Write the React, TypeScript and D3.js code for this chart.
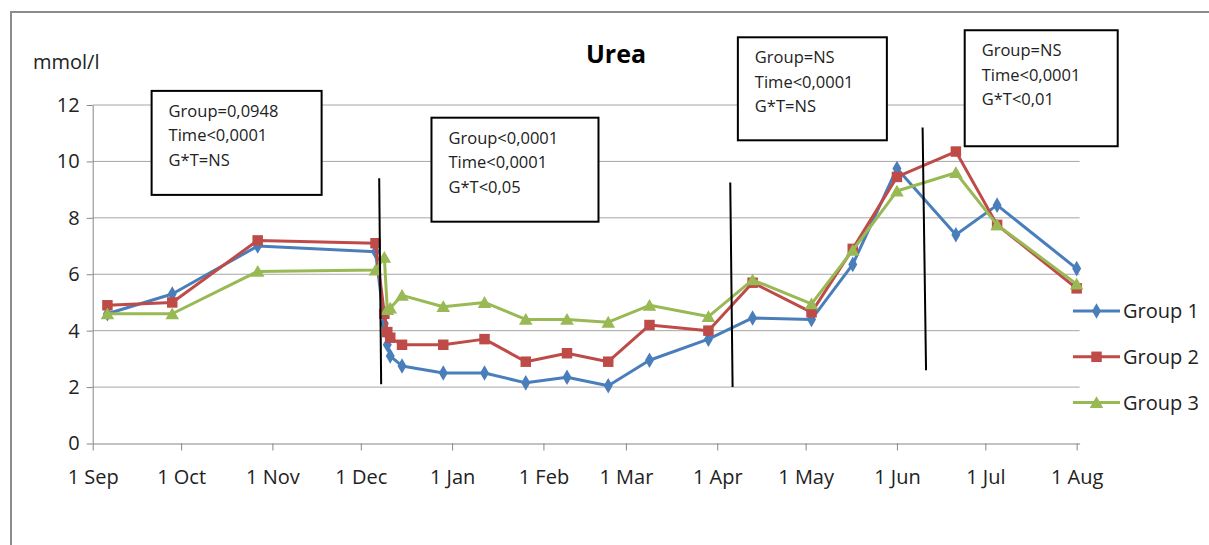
import { useEffect, useRef } from 'react'
import * as d3 from 'd3'

// sampling dates (shared by the three groups)
const dates = [
  '2010-09-06', '2010-09-28', '2010-10-27', '2010-12-06', '2010-12-09', '2010-12-10',
  '2010-12-11', '2010-12-15', '2010-12-29', '2011-01-12', '2011-01-26', '2011-02-09',
  '2011-02-23', '2011-03-09', '2011-03-29', '2011-04-13', '2011-05-03', '2011-05-17',
  '2011-06-01', '2011-06-21', '2011-07-05', '2011-08-01',
]

const group1 = [4.6, 5.3, 7.0, 6.8, 4.25, 3.5, 3.1, 2.75, 2.5, 2.5, 2.15, 2.35, 2.05, 2.95, 3.7, 4.45, 4.4, 6.35, 9.75, 7.4, 8.45, 6.2]
const group2 = [4.9, 5.0, 7.2, 7.1, 4.6, 3.95, 3.75, 3.5, 3.5, 3.7, 2.9, 3.2, 2.9, 4.2, 4.0, 5.7, 4.65, 6.9, 9.45, 10.35, 7.75, 5.5]
const group3 = [4.6, 4.6, 6.1, 6.15, 6.6, 4.75, 4.8, 5.25, 4.85, 5.0, 4.4, 4.4, 4.3, 4.9, 4.5, 5.8, 4.95, 6.85, 8.95, 9.6, 7.75, 5.65]

const seriesNames = ['Group 1', 'Group 2', 'Group 3']
const yTicks = [0, 2, 4, 6, 8, 10, 12]

// statistics boxes, anchored at their top-left corner (date, value)
const boxTexts = [
  ['Group=0,0948', 'Time<0,0001', 'G*T=NS'],
  ['Group<0,0001', 'Time<0,0001', 'G*T<0,05'],
  ['Group=NS', 'Time<0,0001', 'G*T=NS'],
  ['Group=NS', 'Time<0,0001', 'G*T<0,01'],
]
const boxAnchors = [
  ['2010-09-21 00', 12.5],
  ['2010-12-25 00', 11.55],
  ['2011-04-08 00', 14.4],
  ['2011-06-24 00', 14.65],
]

// period separators: [top date, top value, bottom date, bottom value]
const separators = [
  ['2010-12-07 06', 9.4, '2010-12-07 22', 2.1],
  ['2011-04-05 10', 9.25, '2011-04-06 05', 2.0],
  ['2011-06-09 17', 11.2, '2011-06-10 21', 2.6],
]

export default function App() {
  const svgRef = useRef<SVGSVGElement>(null)

  useEffect(() => {
    if (!svgRef.current) return
    const W = 1209
    const H = 545
    const font = '"Open Sans", "DejaVu Sans", sans-serif'
    const colors = ['#4A7EBB', '#BE4B48', '#98B954']
    const boxSizes = [[170, 104], [167, 104], [149, 103], [153, 116]]

    const parseDay = d3.timeParse('%Y-%m-%d')
    const parseHour = d3.timeParse('%Y-%m-%d %H')
    const xDates = dates.map(d => parseDay(d) as Date)

    const svg = d3.select(svgRef.current)
    svg.selectAll('*').remove()

    svg.append('rect').attr('width', W).attr('height', H).attr('fill', '#fff')
    // chart frame
    svg.append('rect')
      .attr('x', 11).attr('y', 12).attr('width', 1400).attr('height', 800)
      .attr('fill', 'none').attr('stroke', '#8c8c8c').attr('stroke-width', 2)

    const x = d3.scaleTime()
      .domain([new Date(2010, 8, 1), new Date(2011, 7, 2)])
      .range([92.7, 1079.6])

    const y = d3.scaleLinear()
      .domain([0, 12])
      .range([443.5, 105])

    // gridlines
    svg.append('g')
      .selectAll('line')
      .data(yTicks.filter(t => t > 0))
      .join('line')
      .attr('x1', x.range()[0]).attr('x2', x.range()[1])
      .attr('y1', d => y(d)).attr('y2', d => y(d))
      .attr('stroke', '#a6a6a6').attr('stroke-width', 1)

    svg.append('g')
      .attr('transform', `translate(0,${y(0)})`)
      .call(d3.axisBottom(x)
        .tickValues(d3.timeMonth.range(new Date(2010, 8, 1), new Date(2011, 7, 2)))
        .tickFormat(d3.timeFormat('%-d %b') as any)
        .tickSize(7).tickSizeOuter(0).tickPadding(19))
      .call(g => g.select('.domain').attr('stroke', '#868686'))
      .call(g => g.selectAll('line').attr('stroke', '#868686'))
      .call(g => g.selectAll('text').attr('fill', '#222').attr('font-size', '20px').attr('font-family', font))

    svg.append('g')
      .attr('transform', `translate(${x.range()[0]},0)`)
      .call(d3.axisLeft(y).tickValues(yTicks).tickSize(6).tickSizeOuter(0).tickPadding(7))
      .call(g => g.select('.domain').attr('stroke', '#868686'))
      .call(g => g.selectAll('line').attr('stroke', '#868686'))
      .call(g => g.selectAll('text').attr('fill', '#222').attr('font-size', '20px').attr('font-family', font))

    const symbols = [d3.symbolDiamond, d3.symbolSquare, d3.symbolTriangle]
    const symbolSizes = [70, 110, 80]
    const allSeries = [group1, group2, group3]

    const line = d3.line<number>()
      .x((_, i) => x(xDates[i]))
      .y(d => y(d))

    allSeries.forEach((values, s) => {
      const g = svg.append('g')
      g.append('path')
        .datum(values)
        .attr('fill', 'none')
        .attr('stroke', colors[s])
        .attr('stroke-width', 3)
        .attr('stroke-linejoin', 'round')
        .attr('d', line)
      g.selectAll('path.mk')
        .data(values)
        .join('path')
        .attr('class', 'mk')
        .attr('transform', (d, i) => `translate(${x(xDates[i])},${y(d) + (s === 2 ? 1.5 : 0)})`)
        .attr('d', d3.symbol().type(symbols[s]).size(symbolSizes[s])())
        .attr('fill', colors[s])
    })

    // separators
    svg.append('g')
      .selectAll('line')
      .data(separators)
      .join('line')
      .attr('x1', d => x(parseHour(d[0] as string) as Date))
      .attr('y1', d => y(d[1] as number))
      .attr('x2', d => x(parseHour(d[2] as string) as Date))
      .attr('y2', d => y(d[3] as number))
      .attr('stroke', '#000').attr('stroke-width', 2)

    // statistics boxes
    boxTexts.forEach((lines, i) => {
      const bx = x(parseHour(boxAnchors[i][0] as string) as Date)
      const by = y(boxAnchors[i][1] as number)
      const [bw, bh] = boxSizes[i]
      svg.append('rect')
        .attr('x', bx).attr('y', by).attr('width', bw).attr('height', bh)
        .attr('fill', '#fff').attr('stroke', '#000').attr('stroke-width', 2)
      svg.append('g')
        .selectAll('text')
        .data(lines)
        .join('text')
        .attr('x', bx + 17)
        .attr('y', (_, k) => by + 26 + k * 24.5)
        .attr('font-size', '16.5px')
        .attr('font-family', font)
        .attr('fill', '#222')
        .text(d => d)
    })

    // title and unit
    svg.append('text')
      .attr('x', 616).attr('y', 63)
      .attr('text-anchor', 'middle')
      .attr('font-size', '25px').attr('font-weight', 'bold')
      .attr('font-family', font).attr('fill', '#000')
      .text('Urea')

    svg.append('text')
      .attr('x', 33).attr('y', 69)
      .attr('font-size', '20px')
      .attr('font-family', font).attr('fill', '#222')
      .text('mmol/l')

    // legend
    const legend = svg.append('g').attr('transform', 'translate(1073,311)')
    seriesNames.forEach((name, i) => {
      const g = legend.append('g').attr('transform', `translate(0,${i * 45.8})`)
      g.append('line').attr('x1', 0).attr('x2', 47).attr('stroke', colors[i]).attr('stroke-width', 3)
      g.append('path')
        .attr('transform', `translate(23.5,${i === 2 ? 1.5 : 0})`)
        .attr('d', d3.symbol().type(symbols[i]).size(symbolSizes[i])())
        .attr('fill', colors[i])
      g.append('text')
        .attr('x', 50).attr('y', 0).attr('dy', '0.35em')
        .attr('font-size', '20px').attr('font-family', font).attr('fill', '#222')
        .text(name)
    })
  }, [])

  return (
    <svg
      ref={svgRef}
      width={1209}
      height={545}
      style={{ position: 'absolute', left: 0, top: 0, display: 'block' }}
    />
  )
}
